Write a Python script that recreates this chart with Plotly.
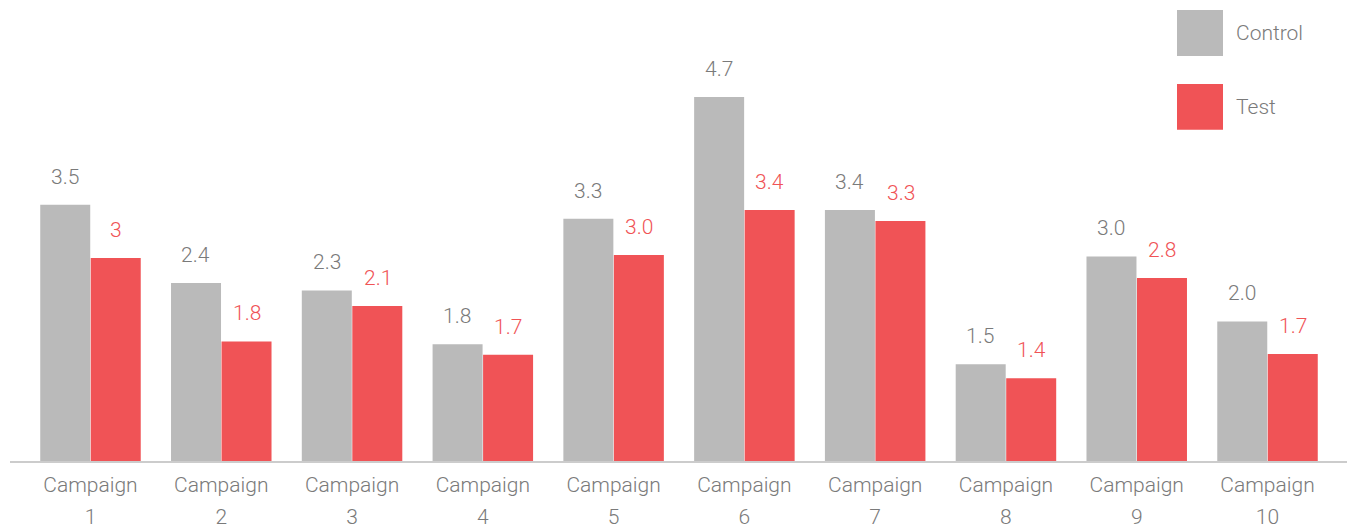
import plotly.graph_objects as go

categories = ["Campaign 1", "Campaign 2", "Campaign 3", "Campaign 4", "Campaign 5",
              "Campaign 6", "Campaign 7", "Campaign 8", "Campaign 9", "Campaign 10"]
control_values = [3.47, 2.41, 2.31, 1.58, 3.28, 4.93, 3.40, 1.31, 2.77, 1.89]
test_values = [2.75, 1.62, 2.10, 1.44, 2.79, 3.40, 3.25, 1.12, 2.48, 1.45]
control_labels = ["3.5", "2.4", "2.3", "1.8", "3.3", "4.7", "3.4", "1.5", "3.0", "2.0"]
test_labels = ["3", "1.8", "2.1", "1.7", "3.0", "3.4", "3.3", "1.4", "2.8", "1.7"]
series_names = ["Control", "Test"]

GRAY = "#BABABA"
RED = "#F05356"
TEXT_GRAY = "#7A7A7A"
FONT = "Roboto"

OFF = 8  # page body margin
W, H = 1355, 527
ML, MR, MT, MB = 10 - OFF, OFF, 18 - OFF, 65.5 + OFF
plot_w = W - ML - MR
plot_h = H - MT - MB
band = 130.78
left_pad = 15.1
x0 = -0.5 - left_pad / band
x1 = x0 + plot_w / band

tick_words = [c.split(" ")[0] for c in categories]
tick_nums = [c.split(" ")[1] for c in categories]
tick_idx = list(range(len(categories)))

fig = go.Figure()
fig.add_trace(go.Bar(x=categories, y=control_values, name=series_names[0],
                     marker=dict(color=GRAY, line=dict(width=0)), hoverinfo="skip"))
fig.add_trace(go.Bar(x=categories, y=test_values, name=series_names[1],
                     marker=dict(color=RED, line=dict(width=0)), hoverinfo="skip"))
# invisible helper so the second (number) tick axis is rendered
fig.add_trace(go.Scatter(x=tick_idx, y=[0] * len(tick_idx), xaxis="x2", yaxis="y",
                         mode="markers", marker=dict(opacity=0, size=1),
                         hoverinfo="skip", showlegend=False))

annotations = []
shift = 25.5
lab_font = dict(family=FONT, size=21, weight=300)
for cat, v, lab in zip(categories, control_values, control_labels):
    annotations.append(dict(x=cat, y=v, text=lab, showarrow=False, xshift=-shift, yshift=14,
                            yanchor="bottom", xanchor="center",
                            font=dict(lab_font, color=TEXT_GRAY)))
for cat, v, lab in zip(categories, test_values, test_labels):
    annotations.append(dict(x=cat, y=v, text=lab, showarrow=False, xshift=shift, yshift=14,
                            yanchor="bottom", xanchor="center",
                            font=dict(lab_font, color=RED)))

# custom legend (large swatches), positions given in page pixels
def px_x(px):
    return (px - OFF - ML) / plot_w

def px_y(py):
    return (OFF + H - MB - py) / plot_h

shapes = []
legend_items = [(series_names[0], GRAY, 10, 56), (series_names[1], RED, 84, 130)]
for name, col, ytop, ybot in legend_items:
    shapes.append(dict(type="rect", xref="paper", yref="paper",
                       x0=px_x(1177), x1=px_x(1223), y0=px_y(ybot), y1=px_y(ytop),
                       fillcolor=col, line=dict(width=0), layer="above"))
    annotations.append(dict(xref="paper", yref="paper", x=px_x(1234), y=px_y((ytop + ybot) / 2),
                            text=name, showarrow=False, xanchor="left", yanchor="middle",
                            font=dict(lab_font, color=TEXT_GRAY)))

tickfont = dict(family=FONT, size=21, color=TEXT_GRAY, weight=300)
fig.update_layout(
    width=W, height=H,
    margin=dict(l=ML, r=MR, t=MT, b=MB, pad=0),
    paper_bgcolor="white", plot_bgcolor="white",
    barmode="group", bargap=0.2277, bargroupgap=0.01,
    showlegend=False,
    font=dict(family=FONT, size=21, color=TEXT_GRAY, weight=300),
    xaxis=dict(type="category", range=[x0, x1], showline=True, linecolor="#CCCCCC", linewidth=1.5,
               showgrid=False, zeroline=False, ticks="", fixedrange=True,
               tickmode="array", tickvals=categories, ticktext=tick_words,
               ticklabelstandoff=4, tickfont=tickfont),
    xaxis2=dict(type="linear", overlaying="x", side="bottom", anchor="y", range=[x0, x1],
                showline=False, showgrid=False, zeroline=False, ticks="", fixedrange=True,
                tickmode="array", tickvals=tick_idx, ticktext=tick_nums,
                ticklabelstandoff=41, tickfont=tickfont),
    yaxis=dict(range=[0, 6], visible=False, showgrid=False, zeroline=False, fixedrange=True),
    annotations=annotations,
    shapes=shapes,
)

fig.write_html("out.html", config={"displayModeBar": False})
